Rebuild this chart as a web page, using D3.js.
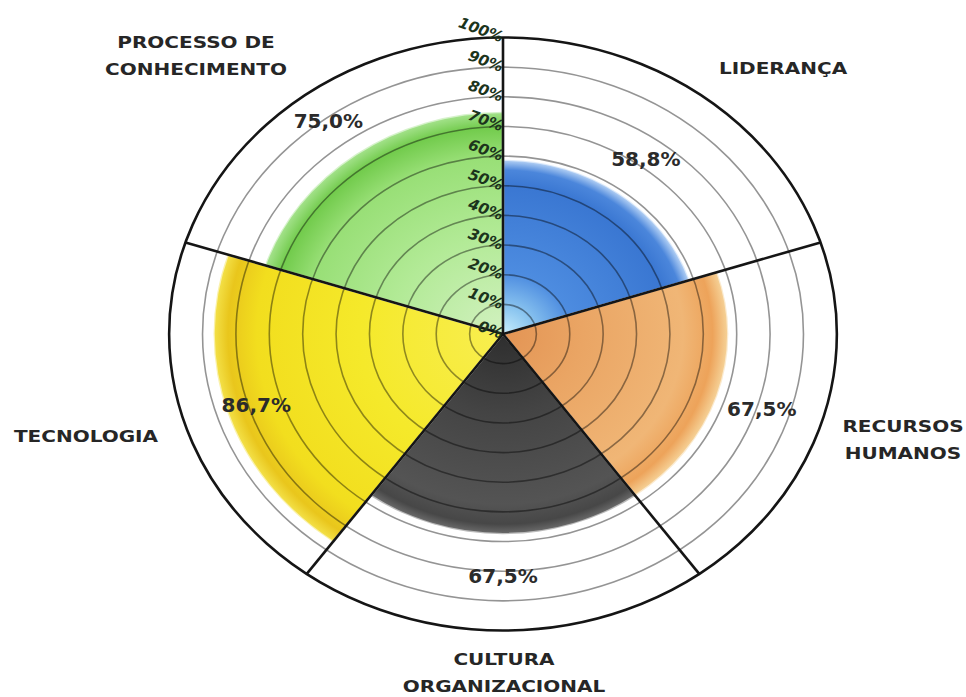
<!DOCTYPE html>
<html><head><meta charset="utf-8">
<script src="https://cdn.jsdelivr.net/npm/d3@7"></script>
<style>body{margin:0;background:#fff}</style>
</head><body>
<svg id="chart" width="966" height="697"></svg>
<script>
// ---- data ----
const categories = ["LIDERANÇA", "RECURSOS HUMANOS", "CULTURA ORGANIZACIONAL", "TECNOLOGIA", "PROCESSO DE CONHECIMENTO"];
const categoryLines = [["LIDERANÇA"], ["RECURSOS", "HUMANOS"], ["CULTURA", "ORGANIZACIONAL"], ["TECNOLOGIA"], ["PROCESSO DE", "CONHECIMENTO"]];
const values = [58.8, 67.5, 67.5, 86.7, 75.0];
const tickValues = [0, 10, 20, 30, 40, 50, 60, 70, 80, 90, 100];

// ---- layout ----
const W = 966, H = 697;
const cx = 503, cy = 334, R = 296.5, sx = 1.126;
const svg = d3.select("#chart").attr("viewBox", `0 0 ${W} ${H}`);
svg.append("rect").attr("width", W).attr("height", H).attr("fill", "#fff");

const r = d3.scaleLinear().domain([0, 100]).range([0, R]);
const angle = d3.scaleBand().domain(categories).range([0, 2 * Math.PI]).paddingInner(0).paddingOuter(0);
const locale = d3.formatLocale({decimal: ",", thousands: ".", grouping: [3], currency: ["", ""]});
const fmt = v => locale.format(".1f")(v) + "%";

// gradients
const palettes = [
  [[0, "#c9eefc"], [0.15, "#8cc6f0"], [0.35, "#4d8ce0"], [0.85, "#3a77d2"], [0.94, "#4b86db"], [1, "#b8d4f6"]],
  [[0, "#e39454"], [0.35, "#eaa564"], [0.8, "#f0b676"], [0.93, "#eda35a"], [1, "#f6d49a"]],
  [[0, "#2e2e2e"], [0.4, "#444"], [0.85, "#545454"], [0.95, "#474747"], [1, "#6c6c6c"]],
  [[0, "#f8ee50"], [0.5, "#f5e92a"], [0.85, "#f2de1e"], [0.95, "#e9c61c"], [1, "#f4e24a"]],
  [[0, "#d2f1c0"], [0.45, "#b2ea96"], [0.8, "#98df76"], [0.93, "#72cb4c"], [1, "#a6e38e"]]
];
const defs = svg.append("defs");
palettes.forEach((stops, i) => {
  const g = defs.append("radialGradient").attr("id", "grad" + i)
    .attr("gradientUnits", "userSpaceOnUse").attr("cx", 0).attr("cy", 0).attr("r", r(values[i]));
  stops.forEach(s => g.append("stop").attr("offset", s[0]).attr("stop-color", s[1]));
});

const chart = svg.append("g").attr("transform", `translate(${cx},${cy}) scale(${sx},1)`);

const arc = d3.arc().innerRadius(0);
// slices
chart.selectAll("path.slice").data(categories).join("path")
  .attr("class", "slice")
  .attr("d", (c, i) => arc({outerRadius: r(values[i]), startAngle: angle(c), endAngle: angle(c) + angle.bandwidth()}))
  .attr("fill", (c, i) => `url(#grad${i})`)
  .attr("stroke", "rgba(255,255,255,0.55)").attr("stroke-width", 2.5)
  .attr("vector-effect", "non-scaling-stroke");

// grid rings
chart.selectAll("circle.ring").data(tickValues.filter(t => t > 0 && t < 100)).join("circle")
  .attr("class", "ring").attr("r", d => r(d))
  .attr("fill", "none").attr("stroke", "rgba(0,0,0,0.42)").attr("stroke-width", 1.6)
  .attr("vector-effect", "non-scaling-stroke");

// outer circle
chart.append("circle").attr("r", r(100)).attr("fill", "none")
  .attr("stroke", "#151515").attr("stroke-width", 2.6).attr("vector-effect", "non-scaling-stroke");

// separators
chart.selectAll("line.sep").data(categories).join("line")
  .attr("class", "sep")
  .attr("x1", 0).attr("y1", 0)
  .attr("x2", c => r(100) * Math.sin(angle(c)))
  .attr("y2", c => -r(100) * Math.cos(angle(c)))
  .attr("stroke", "#151515").attr("stroke-width", 2.6).attr("vector-effect", "non-scaling-stroke");

// polar -> screen
const pt = (a, rad) => [cx + sx * rad * Math.sin(a), cy - rad * Math.cos(a)];

// tick labels along the vertical axis
svg.selectAll("text.tick").data(tickValues).join("text")
  .attr("class", "tick")
  .attr("transform", d => `translate(${cx - 2},${cy - r(d) + 5}) rotate(20)`)
  .attr("text-anchor", "end")
  .attr("font-family", "DejaVu Sans, sans-serif").attr("font-weight", "bold").attr("font-style", "italic")
  .attr("font-size", 15).attr("fill", "#1c341c")
  .text(d => d + "%");

// value labels
svg.selectAll("text.val").data(categories).join("text")
  .attr("class", "val")
  .each(function (c, i) {
    const v = values[i];
    const lr = r(v > 80 ? v - 9 : v + 14);
    const p = pt(angle(c) + angle.bandwidth() / 2, lr);
    d3.select(this).attr("x", p[0]).attr("y", p[1] + 7);
  })
  .attr("text-anchor", "middle")
  .attr("font-family", "DejaVu Sans, sans-serif").attr("font-weight", "bold")
  .attr("font-size", 20).attr("fill", "#2b2b2b")
  .text((c, i) => fmt(values[i]));

// category labels (screen positions of label centres)
const labelPos = [[783, 74], [903, 432], [504, 665], [86, 442], [196, 48]];
categories.forEach((c, i) => {
  const g = svg.append("g").attr("transform", `translate(${labelPos[i][0]},${labelPos[i][1]}) scale(1.25,1)`);
  categoryLines[i].forEach((line, j) => {
    g.append("text").attr("x", 0).attr("y", j * 27)
      .attr("text-anchor", "middle")
      .attr("font-family", "DejaVu Sans, sans-serif").attr("font-weight", "bold")
      .attr("font-size", 16).attr("fill", "#262626")
      .text(line);
  });
});
</script>
</body></html>
